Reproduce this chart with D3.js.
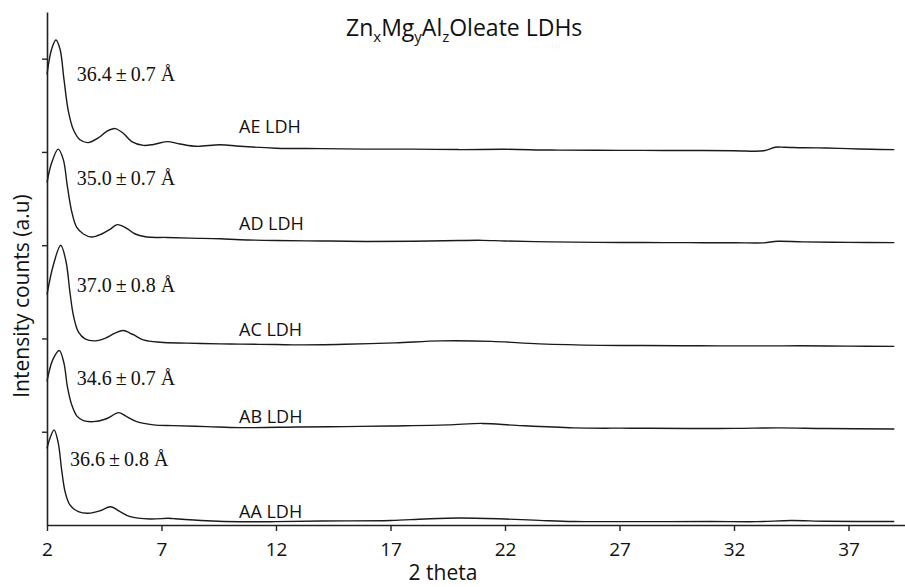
<!DOCTYPE html>
<html>
<head>
<meta charset="utf-8">
<script src="https://cdn.jsdelivr.net/npm/d3@7"></script>
<style>
  html, body { margin: 0; padding: 0; background: #fff; }
  svg { display: block; }
  .sans { font-family: "Open Sans", "DejaVu Sans", sans-serif; fill: #111; }
  .serif { font-family: "Liberation Serif", "DejaVu Serif", serif; fill: #111; }
</style>
</head>
<body>
<svg id="chart" width="905" height="587"></svg>
<script>
// ---------------- DATA ----------------
const seriesNames = ["AA LDH", "AB LDH", "AC LDH", "AD LDH", "AE LDH"];
const seriesOffsets = [0, 1, 1.9, 3, 4];
const spacingLabels = ["36.6\u2009\u00B1\u20090.8 \u00C5", "34.6\u2009\u00B1\u20090.7 \u00C5", "37.0\u2009\u00B1\u20090.8 \u00C5", "35.0\u2009\u00B1\u20090.7 \u00C5", "36.4\u2009\u00B1\u20090.7 \u00C5"];

const aaTheta = [2.0, 2.13, 2.31, 2.49, 2.64, 2.79, 3.0, 3.37, 3.8, 4.32, 4.78, 5.19, 5.63, 6.5, 7.3, 7.52, 8.98, 10.43, 12, 14, 17, 18.5, 20, 22, 23.5, 25, 28, 31, 33, 34.5, 36, 39];
const aaIntensity = [0.82, 0.93, 1.02, 0.88, 0.59, 0.357, 0.215, 0.143, 0.126, 0.153, 0.196, 0.143, 0.089, 0.064, 0.072, 0.068, 0.046, 0.035, 0.036, 0.043, 0.048, 0.065, 0.075, 0.064, 0.05, 0.038, 0.036, 0.038, 0.036, 0.048, 0.04, 0.038];

const abTheta = [2.0, 2.25, 2.54, 2.74, 2.89, 3.08, 3.3, 3.59, 4.02, 4.53, 4.83, 5.12, 5.48, 5.92, 6.65, 7.52, 8.98, 10.43, 13, 15, 17, 19.5, 21, 22.5, 25, 27.5, 30, 32, 34, 36, 39];
const abIntensity = [0.54, 0.77, 0.87, 0.735, 0.484, 0.288, 0.17, 0.119, 0.108, 0.134, 0.17, 0.205, 0.162, 0.108, 0.073, 0.065, 0.055, 0.044, 0.051, 0.055, 0.062, 0.073, 0.089, 0.068, 0.041, 0.038, 0.035, 0.036, 0.041, 0.034, 0.03];

const acTheta = [2.0, 2.28, 2.6, 2.83, 3.0, 3.15, 3.37, 3.66, 4.1, 4.61, 4.97, 5.33, 5.77, 6.21, 6.94, 8.1, 9.56, 10.43, 12, 13, 15, 17.2, 19.2, 21.4, 23.5, 26.2, 28, 30.5, 33, 34.9, 37, 39];
const acIntensity = [0.57, 0.89, 1.10, 0.925, 0.60, 0.35, 0.17, 0.096, 0.074, 0.11, 0.157, 0.185, 0.14, 0.085, 0.06, 0.05, 0.042, 0.039, 0.035, 0.031, 0.038, 0.053, 0.074, 0.069, 0.042, 0.026, 0.024, 0.021, 0.02, 0.021, 0.018, 0.015];

const adTheta = [2.0, 2.2, 2.49, 2.71, 2.89, 3.08, 3.3, 3.59, 3.95, 4.39, 4.75, 5.07, 5.48, 5.85, 6.36, 7.23, 8.25, 9.56, 10.43, 12, 14, 16, 18, 20, 21, 22, 24, 26, 28, 30, 32, 33.3, 33.9, 35, 37, 39];
const adIntensity = [0.67, 0.88, 1.03, 0.92, 0.63, 0.36, 0.19, 0.12, 0.087, 0.12, 0.17, 0.22, 0.18, 0.12, 0.087, 0.083, 0.076, 0.069, 0.059, 0.05, 0.045, 0.04, 0.042, 0.05, 0.052, 0.045, 0.035, 0.03, 0.028, 0.027, 0.026, 0.025, 0.042, 0.035, 0.03, 0.027];

const aeTheta = [2.0, 2.2, 2.39, 2.57, 2.74, 2.93, 3.15, 3.44, 3.8, 4.24, 4.61, 4.97, 5.33, 5.7, 6.21, 6.65, 7.23, 7.81, 8.54, 9.56, 10.43, 12, 14, 16, 18, 20, 22, 24, 26, 28, 30, 32, 33.3, 33.8, 34.2, 35, 36, 37, 38, 39];
const aeIntensity = [0.83, 1.10, 1.20, 1.10, 0.78, 0.44, 0.24, 0.13, 0.10, 0.15, 0.22, 0.25, 0.20, 0.11, 0.07, 0.08, 0.11, 0.085, 0.06, 0.077, 0.06, 0.04, 0.035, 0.03, 0.03, 0.025, 0.028, 0.02, 0.018, 0.016, 0.015, 0.013, 0.012, 0.05, 0.05, 0.045, 0.042, 0.035, 0.028, 0.024];

const xTickValues = [2, 7, 12, 17, 22, 27, 32, 37];
const yTickValues = [1, 2, 3, 4, 5];

const thetas = [aaTheta, abTheta, acTheta, adTheta, aeTheta];
const intensities = [aaIntensity, abIntensity, acIntensity, adIntensity, aeIntensity];

// ---------------- LAYOUT ----------------
const mLeft = 47, mRight = 905, mBottom = 525, mTop = 12;
const pxPerDeg = 22.9;
const svg = d3.select("#chart");

const x = d3.scaleLinear().domain([2, 2 + (mRight - mLeft) / pxPerDeg]).range([mLeft, mRight]);
const y = d3.scaleLinear().domain([0, 5.5]).range([mBottom, mTop]);

// axes
const xAxis = d3.axisBottom(x).tickValues(xTickValues).tickSize(6).tickSizeOuter(0).tickFormat(d3.format("d"));
const gx = svg.append("g").attr("transform", `translate(0,${mBottom})`).call(xAxis);
gx.select(".domain").attr("stroke", "#222").attr("stroke-width", 1.6);
gx.selectAll(".tick line").attr("stroke", "#222").attr("stroke-width", 1.4);
gx.selectAll(".tick text").attr("class", "sans").attr("font-size", 19)
  .attr("y", 31).attr("dy", 0).attr("fill", "#111");

const yAxis = d3.axisLeft(y).tickValues(yTickValues).tickSize(5).tickSizeOuter(0).tickFormat("");
const gy = svg.append("g").attr("transform", `translate(${mLeft},0)`).call(yAxis);
gy.select(".domain").attr("stroke", "#222").attr("stroke-width", 1.6);
gy.selectAll(".tick line").attr("stroke", "#222").attr("stroke-width", 1.4);

// curves
const line = d3.line()
  .x(d => x(d[0]))
  .y(d => y(d[1]))
  .curve(d3.curveCatmullRom.alpha(0.5));

seriesNames.forEach((name, i) => {
  const pts = thetas[i].map((t, j) => [t, intensities[i][j] + seriesOffsets[i]]);
  svg.append("path")
    .datum(pts)
    .attr("fill", "none")
    .attr("stroke", "#1a1a1a")
    .attr("stroke-width", 1.4)
    .attr("stroke-linejoin", "round")
    .attr("d", line);
});

// series labels (sans)
const labelLift = [0.075, 0.094, 0.128, 0.165, 0.206];
seriesNames.forEach((name, i) => {
  svg.append("text").attr("class", "sans")
    .attr("x", x(2 + (239 - mLeft) / pxPerDeg)).attr("y", y(seriesOffsets[i] + labelLift[i]))
    .attr("font-size", 18)
    .text(name);
});

// d-spacing annotations (serif)
const annTheta = [3.0, 3.3, 3.3, 3.3, 3.3];
const annY = [0.633, 1.502, 2.5, 3.648, 4.764];
spacingLabels.forEach((s, i) => {
  svg.append("text").attr("class", "serif")
    .attr("x", x(annTheta[i])).attr("y", y(annY[i]))
    .attr("font-size", 20)
    .text(s);
});

// title with subscripts
const title = svg.append("text").attr("class", "sans").attr("x", 346).attr("y", 36).attr("font-size", 23);
const parts = [["Zn", false], ["x", true], ["Mg", false], ["y", true], ["Al", false], ["z", true], ["Oleate LDHs", false]];
parts.forEach(([t, sub], k) => {
  const ts = title.append("tspan").text(t);
  if (sub) ts.attr("font-size", 15).attr("dy", 6);
  else ts.attr("dy", k > 0 ? -6 : 0);
});

// axis titles
svg.append("text").attr("class", "sans")
  .attr("x", 443).attr("y", 580).attr("text-anchor", "middle").attr("font-size", 21)
  .text("2 theta");
svg.append("text").attr("class", "sans")
  .attr("transform", "translate(29,296) rotate(-90)")
  .attr("text-anchor", "middle").attr("font-size", 21)
  .text("Intensity counts (a.u)");
</script>
</body>
</html>
